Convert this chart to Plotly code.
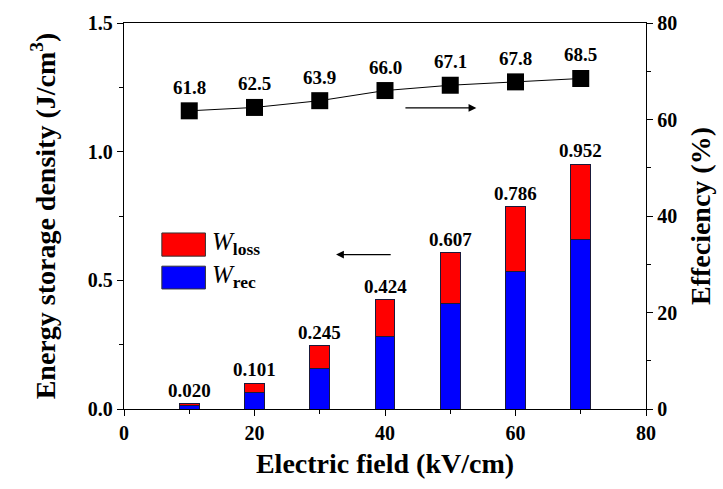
import plotly.graph_objects as go

# Data
fields = [10, 20, 30, 40, 50, 60, 70]
w_total = [0.020, 0.101, 0.245, 0.424, 0.607, 0.786, 0.952]
w_rec = [0.012, 0.064, 0.157, 0.281, 0.411, 0.536, 0.657]
w_loss = [round(t - r, 3) for t, r in zip(w_total, w_rec)]
efficiency = [61.8, 62.5, 63.9, 66.0, 67.1, 67.8, 68.5]
total_labels = ["0.020", "0.101", "0.245", "0.424", "0.607", "0.786", "0.952"]
eff_labels = ["61.8", "62.5", "63.9", "66.0", "67.1", "67.8", "68.5"]

FONT = "Liberation Serif, Times New Roman, serif"

fig = go.Figure()
fig.add_trace(go.Bar(x=fields, y=w_rec, width=3, marker=dict(color="#0000ff", line=dict(color="#1a1a3a", width=1)),
                     name="W_rec", showlegend=False))
fig.add_trace(go.Bar(x=fields, y=w_loss, width=3, marker=dict(color="#ff0000", line=dict(color="#1a1a3a", width=1)),
                     name="W_loss", showlegend=False))
fig.add_trace(go.Scatter(x=fields, y=efficiency, yaxis="y2", mode="lines+markers",
                         line=dict(color="black", width=1),
                         marker=dict(symbol="square", size=17, color="black"),
                         showlegend=False))

annotations = []
for x, t, lab in zip(fields, w_total, total_labels):
    annotations.append(dict(x=x, y=t, xref="x", yref="y", text=f"<b>{lab}</b>", showarrow=False,
                            yanchor="bottom", yshift=1, font=dict(family=FONT, size=19, color="black")))
for x, e, lab in zip(fields, efficiency, eff_labels):
    annotations.append(dict(x=x, y=e, xref="x", yref="y2", text=f"<b>{lab}</b>", showarrow=False,
                            yanchor="bottom", yshift=11, font=dict(family=FONT, size=19, color="black")))

# arrows
annotations.append(dict(x=32.5, y=0.6, ax=41.1, ay=0.6, xref="x", yref="y", axref="x", ayref="y",
                        text="", showarrow=True, arrowhead=2, arrowsize=1.2, arrowwidth=1.3, arrowcolor="black"))
annotations.append(dict(x=54.0, y=62.4, ax=42.9, ay=62.4, xref="x", yref="y2", axref="x", ayref="y2",
                        text="", showarrow=True, arrowhead=2, arrowsize=1.2, arrowwidth=1.3, arrowcolor="black"))

# legend texts
annotations.append(dict(x=0.164, y=0.428, xref="paper", yref="paper", xanchor="left", yanchor="middle",
                        text="<i>W</i><b><sub>loss</sub></b>", showarrow=False,
                        font=dict(family=FONT, size=25, color="black")))
annotations.append(dict(x=0.164, y=0.342, xref="paper", yref="paper", xanchor="left", yanchor="middle",
                        text="<i>W</i><b><sub>rec</sub></b>", showarrow=False,
                        font=dict(family=FONT, size=25, color="black")))

shapes = [
    dict(type="rect", xref="paper", yref="paper", x0=0.0725, x1=0.156, y0=0.396, y1=0.456,
         fillcolor="#ff0000", line=dict(color="#333333", width=1)),
    dict(type="rect", xref="paper", yref="paper", x0=0.0725, x1=0.156, y0=0.311, y1=0.370,
         fillcolor="#0000ff", line=dict(color="#333333", width=1)),
]

tickfont = dict(family=FONT, size=20, color="black", weight="bold")
titlefont = dict(family=FONT, size=28, color="black", weight="bold")

fig.update_layout(
    width=723, height=489,
    margin=dict(l=124, r=75, t=23, b=80),
    paper_bgcolor="white", plot_bgcolor="white",
    barmode="stack",
    annotations=annotations,
    shapes=shapes,
    xaxis=dict(range=[0, 80], tickvals=[0, 20, 40, 60, 80], ticktext=["0", "20", "40", "60", "80"],
               showline=True, linecolor="black", linewidth=1.3, mirror=True,
               ticks="outside", ticklen=6, tickwidth=1.3, tickcolor="black",
               minor=dict(tickvals=[10, 30, 50, 70], ticks="outside", ticklen=4, tickcolor="black", tickwidth=1.3),
               showgrid=False, zeroline=False, tickfont=tickfont,
               title=dict(text="Electric field (kV/cm)", font=titlefont, standoff=10)),
    yaxis=dict(range=[0, 1.5], tickvals=[0, 0.5, 1.0, 1.5], ticktext=["0.0", "0.5", "1.0", "1.5"],
               showline=True, linecolor="black", linewidth=1.3,
               ticks="outside", ticklen=6, tickwidth=1.3, tickcolor="black",
               minor=dict(tickvals=[0.25, 0.75, 1.25], ticks="outside", ticklen=4, tickcolor="black", tickwidth=1.3),
               showgrid=False, zeroline=False, tickfont=tickfont,
               title=dict(text="Energy storage density (J/cm<sup>3</sup>)", font=titlefont, standoff=24)),
    yaxis2=dict(range=[0, 80], overlaying="y", side="right", tickvals=[0, 20, 40, 60, 80],
                showline=True, linecolor="black", linewidth=1.3,
                ticks="outside", ticklen=6, tickwidth=1.3, tickcolor="black",
                minor=dict(tickvals=[10, 30, 50, 70], ticks="outside", ticklen=4, tickcolor="black", tickwidth=1.3),
                showgrid=False, zeroline=False, tickfont=tickfont,
                title=dict(text="Effeciency (%)", font=titlefont, standoff=14)),
)

fig.write_html("out.html")
